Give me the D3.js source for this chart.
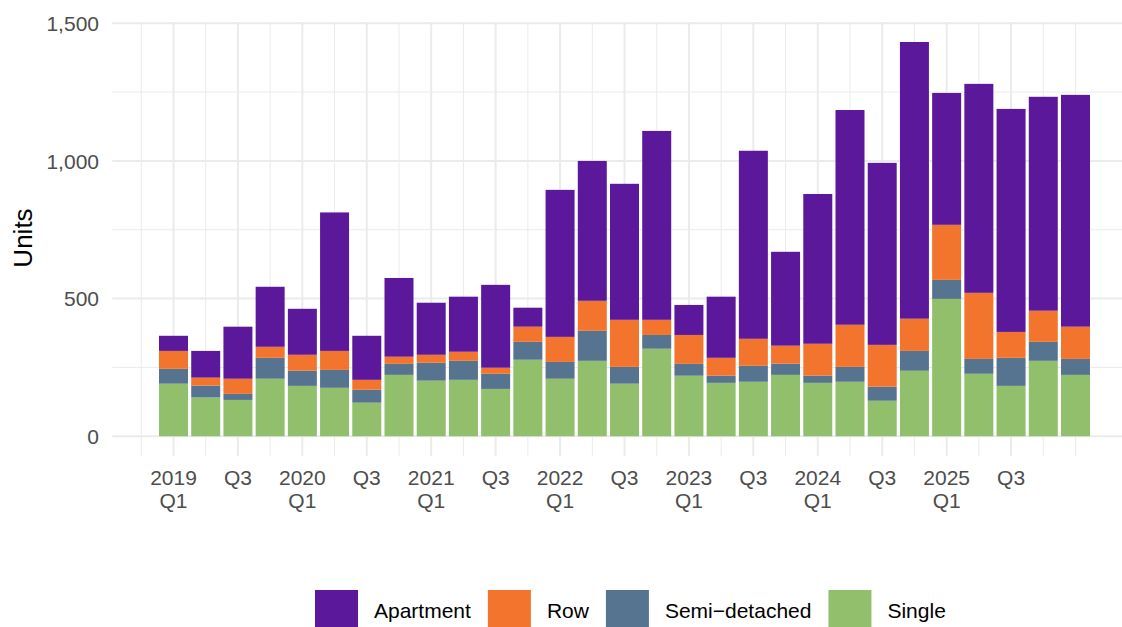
<!DOCTYPE html>
<html>
<head>
<meta charset="utf-8">
<script src="https://cdn.jsdelivr.net/npm/d3@7"></script>
<style>
  body { margin: 0; background: #fff; }
  svg { display: block; font-family: "Liberation Sans", Arial, sans-serif; }
</style>
</head>
<body>
<div class="graphic"></div>
<script>
// Quarters on the x axis, one bar each
const quarters = [
  "2019 Q1","2019 Q2","2019 Q3","2019 Q4",
  "2020 Q1","2020 Q2","2020 Q3","2020 Q4",
  "2021 Q1","2021 Q2","2021 Q3","2021 Q4",
  "2022 Q1","2022 Q2","2022 Q3","2022 Q4",
  "2023 Q1","2023 Q2","2023 Q3","2023 Q4",
  "2024 Q1","2024 Q2","2024 Q3","2024 Q4",
  "2025 Q1","2025 Q2","2025 Q3","2025 Q4",
  "2026 Q1"
]

// Units by dwelling type
const single    = [191,141,132,209,183,176,122,223,202,205,172,278,209,274,191,318,220,194,198,223,194,198,129,238,499,227,183,274,223]
const semi      = [ 54, 43, 22, 76, 55, 65, 47, 40, 65, 69, 55, 65, 61,109, 61, 50, 43, 26, 58, 41, 26, 54, 51, 72, 69, 54,102, 69, 58]
const row       = [ 65, 29, 55, 40, 58, 69, 36, 26, 29, 33, 22, 55, 91,109,171, 55,105, 65, 98, 65,116,153,152,117,200,240, 94,113,117]
const apartment = [ 55, 97,189,218,167,503,160,286,189,200,301, 69,534,508,494,686,109,222,683,341,544,780,661,1005,479,759,810,777,842]

const seriesNames = ["Apartment", "Row", "Semi\u2212detached", "Single"]
const seriesColors = ["#5b189b", "#f3742d", "#56738f", "#91bf6c"]

// Labelled ticks on the x axis
const tickQuarters = ["2019 Q1","2019 Q3","2020 Q1","2020 Q3","2021 Q1","2021 Q3","2022 Q1","2022 Q3","2023 Q1","2023 Q3","2024 Q1","2024 Q3","2025 Q1","2025 Q3"]
const tickLabels = [["2019","Q1"],["Q3"],["2020","Q1"],["Q3"],["2021","Q1"],["Q3"],["2022","Q1"],["Q3"],["2023","Q1"],["Q3"],["2024","Q1"],["Q3"],["2025","Q1"],["Q3"]]

const yTicks = [0, 500, 1000, 1500]
const yMinor = [250, 750, 1250]

const width = 1122, height = 627

const svg = d3.select(".graphic")
  .append("svg")
  .attr("width", width)
  .attr("height", height)

const data = quarters.map((q, i) => ({
  quarter: q,
  i: i,
  "Single": single[i],
  "Semi\u2212detached": semi[i],
  "Row": row[i],
  "Apartment": apartment[i]
}))

const xScale = d3.scaleLinear()
  .domain([0, quarters.length - 1])
  .range([173.5, 1075.5])

const step = xScale(1) - xScale(0)
const barWidth = step * 0.9

const yScale = d3.scaleLinear()
  .domain([-71.65, 1504.65])
  .range([456, 22])

const panelLeft = xScale(-1.9)
const panelRight = width
const panelTop = yScale.range()[1]
const panelBottom = yScale.range()[0]

const color = d3.scaleOrdinal()
  .domain(seriesNames)
  .range(seriesColors)

// grid
const grid = svg.append("g")

grid.selectAll(".hminor")
  .data(yMinor)
  .join("line")
    .attr("x1", panelLeft).attr("x2", panelRight)
    .attr("y1", d => yScale(d)).attr("y2", d => yScale(d))
    .attr("stroke", "#ebebeb").attr("stroke-width", 1)

grid.selectAll(".hmajor")
  .data(yTicks)
  .join("line")
    .attr("x1", panelLeft).attr("x2", panelRight)
    .attr("y1", d => yScale(d)).attr("y2", d => yScale(d))
    .attr("stroke", "#ebebeb").attr("stroke-width", 2)

const vIdx = d3.range(-1, quarters.length)
grid.selectAll(".v")
  .data(vIdx)
  .join("line")
    .attr("x1", d => xScale(d)).attr("x2", d => xScale(d))
    .attr("y1", panelTop).attr("y2", panelBottom)
    .attr("stroke", "#ebebeb")
    .attr("stroke-width", d => tickQuarters.includes(quarters[d]) ? 2 : 1)

// stacked bars
const stack = d3.stack()
  .keys(["Single", "Semi\u2212detached", "Row", "Apartment"])

const layers = stack(data)

svg.append("g")
  .selectAll("g")
  .data(layers)
  .join("g")
    .attr("fill", d => color(d.key))
  .selectAll("rect")
  .data(d => d)
  .join("rect")
    .attr("x", d => xScale(d.data.i) - barWidth / 2)
    .attr("width", barWidth)
    .attr("y", d => yScale(d[1]))
    .attr("height", d => yScale(d[0]) - yScale(d[1]))

// y axis labels
svg.append("g")
  .selectAll("text")
  .data(yTicks)
  .join("text")
    .attr("x", 99)
    .attr("y", d => yScale(d))
    .attr("dy", "0.36em")
    .attr("text-anchor", "end")
    .attr("font-size", 21)
    .attr("fill", "#4d4d4d")
    .text(d => d3.format(",")(d))

// x axis labels
const xLab = svg.append("g")
  .selectAll("text")
  .data(tickQuarters)
  .join("text")
    .attr("transform", (d, i) => `translate(${xScale(quarters.indexOf(d))},485)`)
    .attr("text-anchor", "middle")
    .attr("font-size", 21)
    .attr("fill", "#4d4d4d")

xLab.selectAll("tspan")
  .data((d, i) => tickLabels[i])
  .join("tspan")
    .attr("x", 0)
    .attr("y", (d, j) => j * 23)
    .text(d => d)

// y title
svg.append("text")
  .attr("transform", "translate(32,238) rotate(-90)")
  .attr("text-anchor", "middle")
  .attr("font-size", 26)
  .attr("fill", "#000")
  .text("Units")

// legend
const legend = svg.append("g")
let lx = 315
seriesNames.forEach(name => {
  legend.append("rect")
    .attr("x", lx)
    .attr("y", 590)
    .attr("width", 43)
    .attr("height", 43)
    .attr("fill", color(name))
  const t = legend.append("text")
    .attr("x", lx + 43 + 16)
    .attr("y", 618)
    .attr("font-size", 21)
    .attr("fill", "#000")
    .text(name)
  lx = lx + 43 + 16 + t.node().getComputedTextLength() + 17
})
</script>
</body>
</html>
